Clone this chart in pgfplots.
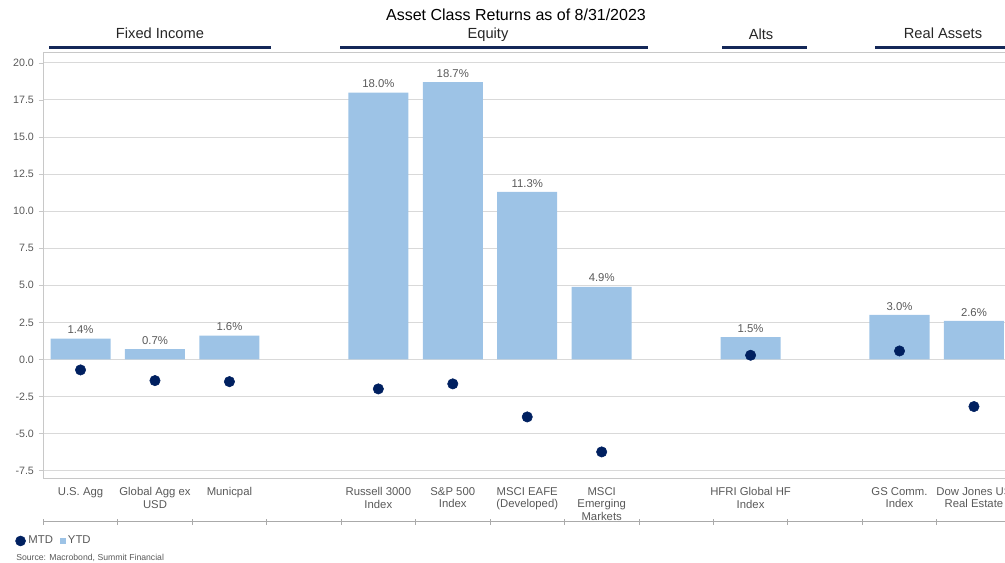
\documentclass[border=0pt]{standalone}
\usepackage{fontspec}
\setmainfont{Liberation Sans}
\usepackage{pgfplots}
\pgfplotsset{compat=1.18}

\definecolor{ytdblue}{RGB}{157,195,230}
\definecolor{mtdnavy}{RGB}{0,32,96}
\definecolor{hdrnavy}{RGB}{20,40,88}
\definecolor{lblgray}{RGB}{89,89,89}
\definecolor{txtgray}{RGB}{38,38,38}
\definecolor{gridgray}{RGB}{217,217,217}
\definecolor{axgray}{RGB}{200,200,200}

\begin{document}
\begin{tikzpicture}
\useasboundingbox (0,0) rectangle (753.75pt,-422.25pt);
\begin{axis}[
    at={(32.475pt,-358.5pt)}, anchor=south west,
    scale only axis,
    width=725.9pt, height=319.1pt,
    xmin=-0.5, xmax=12.5,
    ymin=-8, ymax=20.7,
    /pgf/number format/assume math mode=true,
    ytick={-7.5,-5,-2.5,0,2.5,5,7.5,10,12.5,15,17.5,20},
    yticklabel style={font=\fontsize{8}{9}\selectfont, color=lblgray,
        /pgf/number format/.cd, fixed, fixed zerofill, precision=1},
    xtick={0,1,2,4,5,6,7,9,11,12},
    xticklabels={U.S. Agg, Global Agg ex\\USD, Municpal, Russell 3000\\Index,
        S\&P 500\\Index, MSCI EAFE\\(Developed), MSCI\\Emerging\\Markets,
        HFRI Global HF\\Index, GS Comm.\\Index, Dow Jones US\\Real Estate},
    xticklabel style={font=\fontsize{8.5}{9.4}\selectfont, color=lblgray,
        align=center, anchor=north},
    xtick style={draw=none},
    ytick style={axgray},
    tick align=outside,
    major tick length=3.5pt,
    ymajorgrids,
    grid style={gridgray, line width=0.75pt},
    axis line style={axgray, line width=0.6pt},
    legend columns=2,
    legend cell align=left,
    legend style={at={(axis description cs:-0.0292,-0.148)}, anchor=west,
        draw=none, fill=none, inner sep=0pt,
        font=\fontsize{8.5}{10}\selectfont, text=lblgray,
        /tikz/every even column/.append style={column sep=3pt}},
]
\addlegendimage{legend image code/.code={\fill[mtdnavy] (3.75pt,0pt) circle (3.75pt);}}
\addlegendentry{MTD}
\addlegendimage{legend image code/.code={\fill[ytdblue] (0pt,-1.9pt) rectangle (3.8pt,1.9pt);}}
\addlegendentry{YTD}

% YTD returns (bars)
\addplot[ybar, bar width=0.806, fill=ytdblue, draw=none, forget plot,
    point meta=y,
    nodes near coords={\pgfmathprintnumber[fixed,fixed zerofill,precision=1]{\pgfplotspointmeta}\%},
    nodes near coords style={font=\fontsize{8.5}{10}\selectfont, color=lblgray, anchor=south}]
coordinates {
    (0,1.4) (1,0.7) (2,1.6)
    (4,18.0) (5,18.7) (6,11.3) (7,4.9)
    (9,1.5)
    (11,3.0) (12,2.6)
};

% MTD returns (dots)
\addplot[only marks, mark=*, mark size=3.9pt, color=mtdnavy, forget plot]
coordinates {
    (0,-0.71) (1,-1.43) (2,-1.50)
    (4,-1.99) (5,-1.65) (6,-3.88) (7,-6.24)
    (9,0.28)
    (11,0.57) (12,-3.18)
};
\end{axis}

\begin{scope}[x=0.75pt, y=-0.75pt]
    % title and group headers
    \node[font=\fontsize{12}{14}\selectfont, anchor=base] at (516,20.7) {Asset Class Returns as of 8/31/2023};
    \node[font=\fontsize{11}{13}\selectfont, text=txtgray, anchor=base] at (160,38.5) {Fixed Income};
    \node[font=\fontsize{11}{13}\selectfont, text=txtgray, anchor=base] at (488,38.5) {Equity};
    \node[font=\fontsize{11}{13}\selectfont, text=txtgray, anchor=base] at (761,39.5) {Alts};
    \node[font=\fontsize{11}{13}\selectfont, text=txtgray, anchor=base] at (943,38.5) {Real Assets};
    \draw[hdrnavy, line width=2pt] (49,47.7) -- (271,47.7);
    \draw[hdrnavy, line width=2pt] (340,47.7) -- (648,47.7);
    \draw[hdrnavy, line width=2pt] (722,47.7) -- (807,47.7);
    \draw[hdrnavy, line width=2pt] (875,47.7) -- (1012,47.7);

    % category axis under the labels
    \draw[axgray!85!black, line width=0.6pt] (43.3,521.7) -- (1012,521.7);
    \foreach \k in {0,...,12}
        \draw[axgray!85!black, line width=0.6pt] ({43.3+74.45*\k},519) -- ++(0,6);

    \node[font=\fontsize{6.5}{8}\selectfont, text=lblgray, anchor=base west, inner sep=0pt] at (16,560) {Source: Macrobond, Summit Financial};
\end{scope}
\end{tikzpicture}
\end{document}
